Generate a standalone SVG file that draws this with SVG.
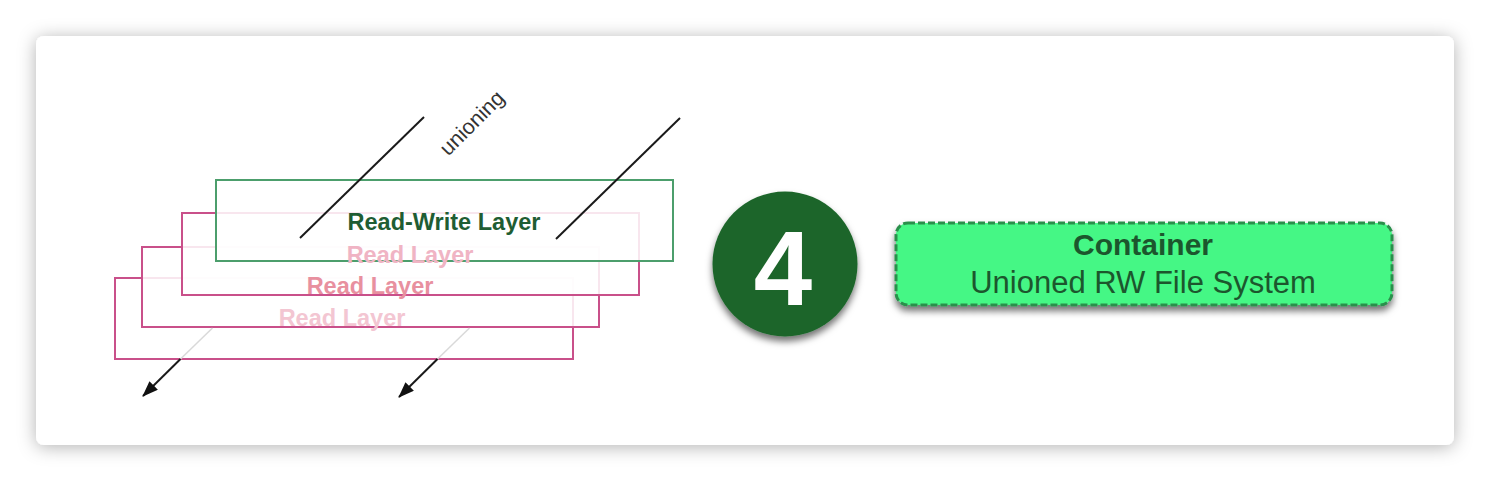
<svg xmlns="http://www.w3.org/2000/svg" width="1490" height="482" viewBox="0 0 1490 482">
  <defs>
    <filter id="cardShadow" x="-5%" y="-10%" width="110%" height="120%">
      <feDropShadow dx="0" dy="2" stdDeviation="9" flood-color="#000" flood-opacity="0.3"/>
    </filter>
    <filter id="nodeShadow" x="-20%" y="-20%" width="140%" height="150%">
      <feDropShadow dx="0" dy="5" stdDeviation="3.5" flood-color="#000" flood-opacity="0.55"/>
    </filter>
    <marker id="arrow" viewBox="0 0 16 12" refX="15" refY="6" markerWidth="16" markerHeight="12" markerUnits="userSpaceOnUse" orient="auto">
      <path d="M0,0 L16,6 L0,12 Z" fill="#111"/>
    </marker>
    <style>
      .layer { fill: #ffffff; fill-opacity: 0.86; stroke-width: 2; }
      .rw { stroke: #4c9e6c; }
      .ro { stroke: #c9508a; }
      .lbl { font-family: "Liberation Sans", Arial, sans-serif; font-weight: bold; font-size: 23.5px; text-anchor: middle; }
      .conn { stroke: #1a1a1a; stroke-width: 2; fill: none; }
      .hidden { stroke: #d9d9d9; stroke-width: 1.5; fill: none; }
      .boxtxt { font-family: "Liberation Sans", Arial, sans-serif; fill: #1c562d; text-anchor: middle; }
    </style>
  </defs>

  <rect x="36" y="36" width="1418" height="409" rx="8" fill="#ffffff" filter="url(#cardShadow)"/>

  <!-- stacked layers: each layer group nests the layers stacked above it -->
  <g id="read-layer-3">
    <rect class="layer ro" x="115" y="278" width="458" height="81"/>
    <g id="read-layer-2">
      <rect class="layer ro" x="142" y="247" width="457" height="80"/>
      <g id="read-layer-1">
        <rect class="layer ro" x="182" y="213" width="457" height="82"/>
        <g id="read-write-layer">
          <rect class="layer rw" x="216" y="180" width="457" height="81"/>
          <text class="lbl" x="444" y="230" fill="#1f5d33">Read-Write Layer</text>
        </g>
        <text class="lbl" x="410" y="263" fill="#f0b4c4">Read Layer</text>
      </g>
      <text class="lbl" x="370" y="294" fill="#e8909f">Read Layer</text>
    </g>
    <text class="lbl" x="342" y="326" fill="#f3c6d2">Read Layer</text>
  </g>

  <g id="connectors">
    <line class="conn" x1="424" y1="117" x2="300" y2="238"/>
    <line class="hidden" x1="212.5" y1="328" x2="180.5" y2="359"/>
    <line class="conn" x1="180.5" y1="359" x2="143" y2="396" marker-end="url(#arrow)"/>
    <line class="conn" x1="680" y1="118" x2="556" y2="239"/>
    <line class="hidden" x1="469.5" y1="328" x2="437.5" y2="359"/>
    <line class="conn" x1="437.5" y1="359" x2="399" y2="397" marker-end="url(#arrow)"/>
    <text x="477" y="128" transform="rotate(-45 477 128)" font-family="Liberation Sans, Arial, sans-serif" font-size="21.5" fill="#333" text-anchor="middle">unioning</text>
  </g>

  <g id="step-4">
    <circle cx="785" cy="264" r="72.5" fill="#1b6529" filter="url(#nodeShadow)"/>
    <text x="783" y="305" font-family="Liberation Sans, Arial, sans-serif" font-weight="bold" font-size="105" fill="#ffffff" text-anchor="middle">4</text>
  </g>

  <g id="container">
    <rect x="896" y="223" width="496" height="82" rx="12" fill="#45f785" stroke="#2a8f4c" stroke-width="3" stroke-dasharray="7 3" filter="url(#nodeShadow)"/>
    <text class="boxtxt" x="1143" y="255" font-weight="bold" font-size="30">Container</text>
    <text class="boxtxt" x="1143" y="293" font-size="31">Unioned RW File System</text>
  </g>
</svg>
